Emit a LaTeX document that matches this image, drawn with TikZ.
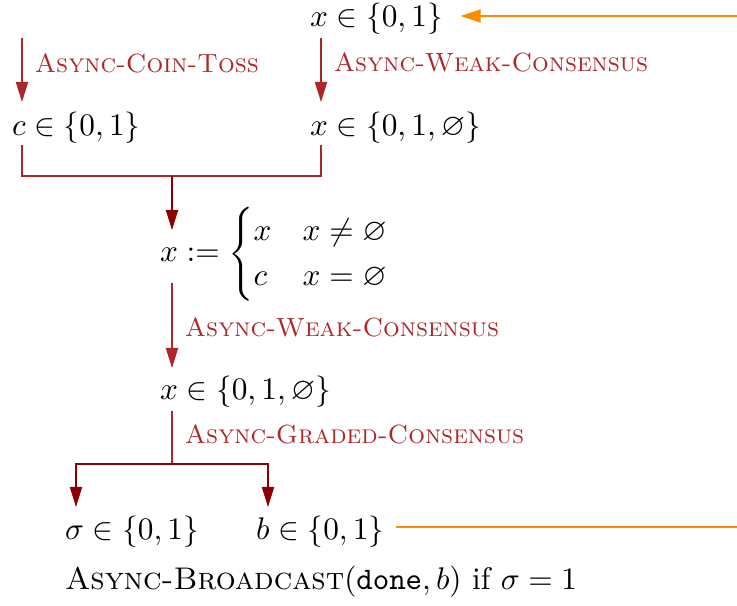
\documentclass[tikz,border=0pt]{standalone}
\usepackage{amsmath,amssymb}
\usetikzlibrary{arrows.meta,calc}

\definecolor{protored}{RGB}{172,38,42}
\definecolor{joinred}{RGB}{139,0,0}
\definecolor{inorange}{RGB}{255,140,0}

\begin{document}
\begin{tikzpicture}[
        x=0.3195pt, y=-0.3195pt,
        every node/.style={anchor=west, inner sep=0pt, outer sep=0pt},
        lbl/.style={text=protored, xshift=4.1pt, font=\fontsize{8.4}{10}\selectfont},
        paso/.style={-{Triangle[length=6.4pt,width=3.9pt]}, protored, thin},
        junta/.style={-{Triangle[length=6.4pt,width=3.9pt]}, joinred, thin},
        entrada/.style={-{Triangle[length=6.4pt,width=4.2pt]}, inorange, thin}
    ]
    \useasboundingbox (0,0) rectangle (737,605);

    \node (X0) at (310,19) {$x \in \{0,1\}$};
    \node (C) at (12,128) {$c \in \{0,1\}$};
    \node (X1) at (310,128) {$x \in \{0,1,\varnothing\}$};
    \node (Xc) at (160,254) {$x := \begin{cases} x & x \neq \varnothing \\ c & x = \varnothing \end{cases}$};
    \node (X2) at (160,392) {$x \in \{0,1,\varnothing\}$};
    \node (S) at (65,532) {$\sigma \in \{0,1\}$};
    \node (B) at (256,532) {$b \in \{0,1\}$};
    \node (BC) at (65,582) {\textsc{Async-Broadcast}$(\texttt{done}, b)$ if $\sigma = 1$};

    \coordinate (T0) at (22,38);
    \coordinate (J1) at (172,176);
    \coordinate (J2) at (172,464);
    \coordinate (R0) at (737,16);
    \coordinate (R1) at (737,527);

    \draw[paso] (T0) -- ($(C.west)+(10,-26)$) node[lbl, pos=0.39]{\textsc{Async-Coin-Toss}};
    \draw[paso] ($(X0.west)+(11,19)$) -- ($(X1.west)+(11,-26)$) node[lbl, pos=0.375]{\textsc{Async-Weak-Consensus}};
    \draw[protored, thin] ($(C.west)+(10,17)$) |- (J1) -| ($(X1.west)+(11,17)$);
    \draw[junta] (J1) -- ($(Xc.west)+(12,-24)$);
    \draw[paso] ($(Xc.west)+(12,29)$) -- ($(X2.west)+(12,-24)$) node[lbl, pos=0.52]{\textsc{Async-Weak-Consensus}};
    \draw[protored, thin] ($(X2.west)+(12,19)$) -- (J2) node[lbl, pos=0.45]{\textsc{Async-Graded-Consensus}};
    \draw[junta] (J2) -| ($(S.west)+(11,-25)$);
    \draw[junta] (J2) -| ($(B.west)+(12,-25)$);
    \draw[entrada] (R0) -- ($(X0.east)+(18,-3)$);
    \draw[inorange, thin] ($(B.east)+(12,-5)$) -- (R1);
\end{tikzpicture}
\end{document}
